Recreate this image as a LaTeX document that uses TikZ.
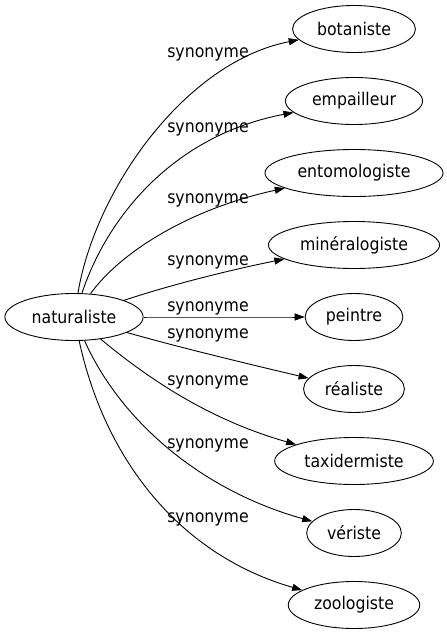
\documentclass[tikz,border=0pt]{standalone}
\usepackage{fontspec}
\setmainfont{DejaVu Sans}[FakeStretch=0.9]
\usetikzlibrary{arrows.meta,shapes.geometric}
\tikzset{
  word/.style={draw, ellipse, line width=.9pt, inner xsep=6.5pt, inner ysep=2pt, minimum height=47pt},
  lbl/.style={inner sep=0pt}
}
\begin{document}
\begin{tikzpicture}[x=1pt, y=-1pt, line width=.9pt, >={Triangle[length=10pt,width=7pt]},
    font=\fontsize{17.5}{20}\selectfont]
    \useasboundingbox (0,0) rectangle (447,635);
    \node[word] (nat) at (74,317) {naturaliste};
    \foreach \n/\t [count=\i from 0] in {bot/botaniste, emp/empailleur, ent/entomologiste,
        min/minéralogiste, pei/peintre, rea/réaliste, tax/taxidermiste, ver/vériste, zoo/zoologiste}
        {\node[word] (\n) at (354,29+72*\i) {\t};}
    % edges from the centre word
    \foreach \n/\ax/\ay/\bx/\by in {bot/95/190/185/62, emp/108/215/175/135, ent/118/255/185/210,
        min/170/285/230/270, pei/200/317/250/317, rea/170/345/240/362,
        tax/150/380/210/420, ver/120/420/200/490, zoo/105/460/180/555}
        {\draw[->] (nat) .. controls (\ax,\ay) and (\bx,\by) .. (\n);}
    \foreach \s/\y in {s1/54, s2/129, s3/200, s4/262, s5/308, s6/335, s7/382, s8/445, s9/519}
        {\node[lbl] (\s) at (208,\y) {synonyme};}
\end{tikzpicture}
\end{document}
